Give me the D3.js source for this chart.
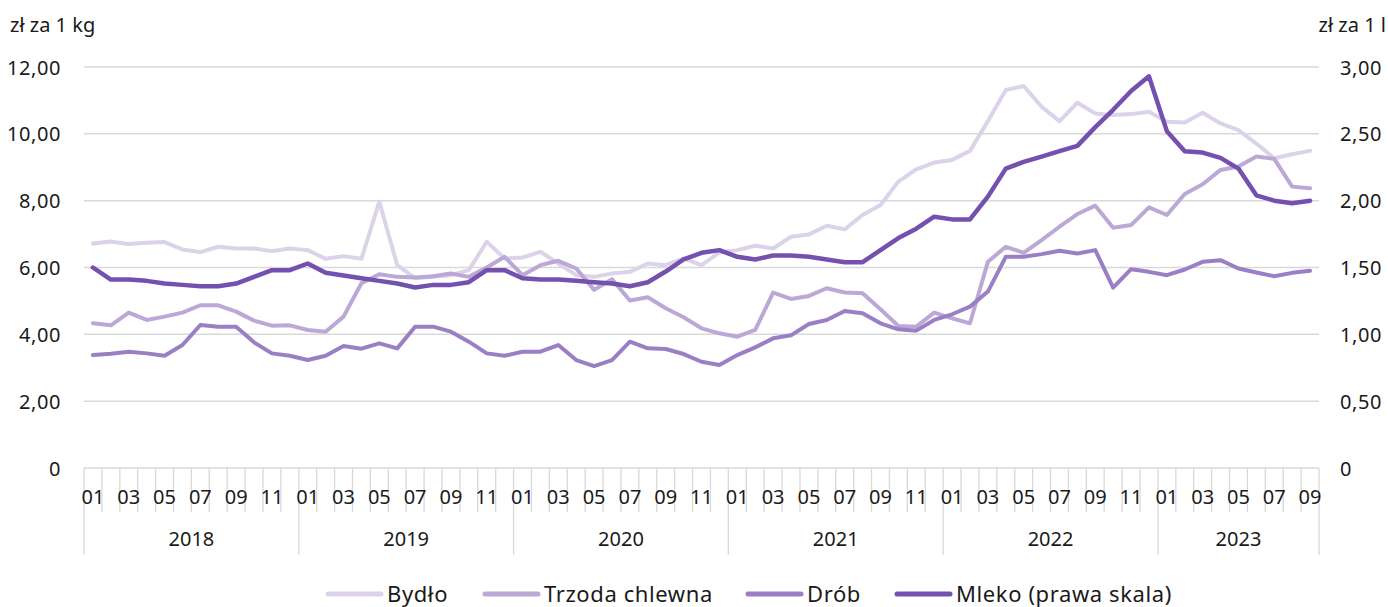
<!DOCTYPE html>
<html><head><meta charset="utf-8">
<script src="https://cdn.jsdelivr.net/npm/d3@7"></script>
<style>
html,body{margin:0;padding:0;background:#fff;}
text{font-family:"Noto Sans",sans-serif;fill:#1a1a1a;}
</style></head>
<body><svg id="c" width="1388" height="607"></svg>
<script>
const years = ["2018","2019","2020","2021","2022","2023"];
const monthCodes = ["01","02","03","04","05","06","07","08","09","10","11","12"];
const leftTicks = [0,2,4,6,8,10,12];
const rightTicks = [0,0.5,1,1.5,2,2.5,3];
const seriesNames = ["Bydło","Trzoda chlewna","Drób","Mleko (prawa skala)"];
const seriesColors = ["#dcd2ea","#bca8d7","#9b7fc4","#7451ae"];

const bydlo = [6.72,6.78,6.70,6.74,6.76,6.54,6.46,6.62,6.57,6.57,6.49,6.57,
  6.52,6.26,6.34,6.26,7.97,6.07,5.68,5.72,5.77,5.92,6.77,6.27,
  6.30,6.47,6.12,5.77,5.72,5.82,5.87,6.12,6.07,6.27,6.07,6.45,
  6.52,6.65,6.57,6.92,6.99,7.25,7.14,7.57,7.87,8.57,8.94,9.14,
  9.22,9.49,10.38,11.31,11.43,10.81,10.38,10.93,10.61,10.56,10.59,10.66,
  10.36,10.34,10.63,10.31,10.11,9.71,9.27,9.39,9.49];
const trzoda = [4.33,4.27,4.65,4.43,4.53,4.65,4.87,4.87,4.68,4.41,4.26,4.27,
  4.13,4.08,4.53,5.53,5.80,5.72,5.70,5.74,5.82,5.72,6.00,6.32,
  5.77,6.07,6.20,5.97,5.33,5.65,5.01,5.11,4.78,4.51,4.18,4.03,
  3.93,4.13,5.25,5.06,5.15,5.38,5.25,5.23,4.75,4.25,4.23,4.65,
  4.48,4.33,6.17,6.62,6.44,6.82,7.22,7.60,7.85,7.19,7.27,7.80,
  7.57,8.20,8.49,8.92,9.02,9.32,9.25,8.42,8.37];
const drob = [3.38,3.42,3.48,3.43,3.36,3.68,4.28,4.23,4.23,3.76,3.43,3.36,
  3.23,3.36,3.65,3.57,3.73,3.58,4.23,4.23,4.08,3.78,3.43,3.36,
  3.48,3.48,3.68,3.23,3.05,3.23,3.78,3.58,3.56,3.41,3.18,3.08,
  3.38,3.61,3.88,3.97,4.31,4.43,4.70,4.63,4.33,4.15,4.11,4.43,
  4.60,4.83,5.28,6.32,6.32,6.40,6.50,6.42,6.52,5.40,5.95,5.87,
  5.77,5.94,6.17,6.22,5.97,5.85,5.74,5.84,5.90];
const mleko = [1.50,1.41,1.41,1.40,1.38,1.37,1.36,1.36,1.38,1.43,1.48,1.48,
  1.53,1.46,1.44,1.42,1.40,1.38,1.35,1.37,1.37,1.39,1.48,1.48,
  1.42,1.41,1.41,1.40,1.39,1.38,1.36,1.39,1.47,1.56,1.61,1.63,
  1.58,1.56,1.59,1.59,1.58,1.56,1.54,1.54,1.63,1.72,1.79,1.88,
  1.86,1.86,2.03,2.24,2.29,2.33,2.37,2.41,2.55,2.68,2.82,2.93,
  2.52,2.37,2.36,2.32,2.24,2.04,2.00,1.98,2.00];

// build month list
const months = [];
years.forEach(y => monthCodes.forEach(m => { if (!(y==="2023" && +m>9)) months.push({y, m, key:y+"-"+m}); }));

const svg = d3.select("#c");
const L = 84, R = 1319, T = 67, B = 468;
const x = d3.scaleBand().domain(months.map(d=>d.key)).range([L,R]).padding(0);
const yL = d3.scaleLinear().domain([0,12]).range([B,T]);
const yR = d3.scaleLinear().domain([0,3]).range([B,T]);
const loc = d3.formatLocale({decimal:",",thousands:" ",grouping:[3],currency:["","zł"]});
const f2 = loc.format(".2f");
const fmt = v => v===0 ? "0" : f2(v);
const FS = 20;

// gridlines
svg.append("g").selectAll("line").data(leftTicks.filter(t=>t>0)).join("line")
  .attr("x1",L).attr("x2",R).attr("y1",d=>yL(d)).attr("y2",d=>yL(d))
  .attr("stroke","#d9d9d9").attr("stroke-width",1.5);

// left axis labels
const gl = svg.append("g").attr("transform",`translate(61,0)`)
  .call(d3.axisLeft(yL).tickValues(leftTicks).tickFormat(fmt).tickSize(0).tickPadding(0));
gl.select(".domain").remove();
gl.selectAll("text").attr("font-size",FS).attr("font-family","Noto Sans").attr("fill","#1a1a1a").attr("dy","0.35em").attr("letter-spacing",0.6);

// right axis labels
const gr = svg.append("g").attr("transform",`translate(1340,0)`)
  .call(d3.axisRight(yR).tickValues(rightTicks).tickFormat(fmt).tickSize(0).tickPadding(0));
gr.select(".domain").remove();
gr.selectAll("text").attr("font-size",FS).attr("font-family","Noto Sans").attr("fill","#1a1a1a").attr("dy","0.35em").attr("letter-spacing",0.6);

// axis titles
svg.append("text").attr("x",10).attr("y",32).attr("font-size",FS).text("zł za 1 kg");
svg.append("text").attr("x",1386).attr("y",32).attr("font-size",FS).attr("text-anchor","end").text("zł za 1 l");

// x axis
const xg = svg.append("g");
xg.append("line").attr("x1",L).attr("x2",R).attr("y1",B).attr("y2",B).attr("stroke","#d9d9d9").attr("stroke-width",1.5);
const bounds = months.map(d=>x(d.key)).concat([R]);
xg.selectAll("line.tk").data(bounds).join("line").attr("class","tk")
  .attr("x1",d=>d).attr("x2",d=>d).attr("y1",B)
  .attr("y2",(d,i)=> (i%12===0 || i===bounds.length-1) ? 555 : 512)
  .attr("stroke","#d9d9d9").attr("stroke-width",1.3);
xg.selectAll("text.m").data(months.filter(d=>(+d.m)%2===1)).join("text").attr("class","m")
  .attr("x",d=>x(d.key)+x.bandwidth()/2).attr("y",497).attr("dy","0.35em")
  .attr("text-anchor","middle").attr("font-size",FS).text(d=>d.m);
xg.selectAll("text.y").data(years).join("text").attr("class","y")
  .attr("x",y=>{const ms=months.filter(d=>d.y===y);return (x(ms[0].key)+x(ms[ms.length-1].key)+x.bandwidth())/2;})
  .attr("y",539).attr("dy","0.35em").attr("text-anchor","middle").attr("font-size",FS).text(d=>d);

// lines
const mk = (arr, ys) => d3.line().x((d,i)=>x(months[i].key)+x.bandwidth()/2).y(d=>ys(d))(arr);
const seriesData = [[bydlo,yL],[trzoda,yL],[drob,yL],[mleko,yR]];
seriesData.forEach((s,i)=>{
  svg.append("path").attr("d",mk(s[0],s[1])).attr("fill","none")
    .attr("stroke",seriesColors[i]).attr("stroke-width",i===3?4.5:4)
    .attr("stroke-linejoin","round").attr("stroke-linecap","round");
});

// legend
const legX = [328,485,748,897];
const lg = svg.append("g");
seriesNames.forEach((n,i)=>{
  lg.append("line").attr("x1",legX[i]).attr("x2",legX[i]+53).attr("y1",594).attr("y2",594)
    .attr("stroke",seriesColors[i]).attr("stroke-width",5).attr("stroke-linecap","round");
  lg.append("text").attr("x",legX[i]+59).attr("y",594).attr("dy","0.35em").attr("font-size",22)
    .attr("letter-spacing",0.6).text(n);
});
</script></body></html>
